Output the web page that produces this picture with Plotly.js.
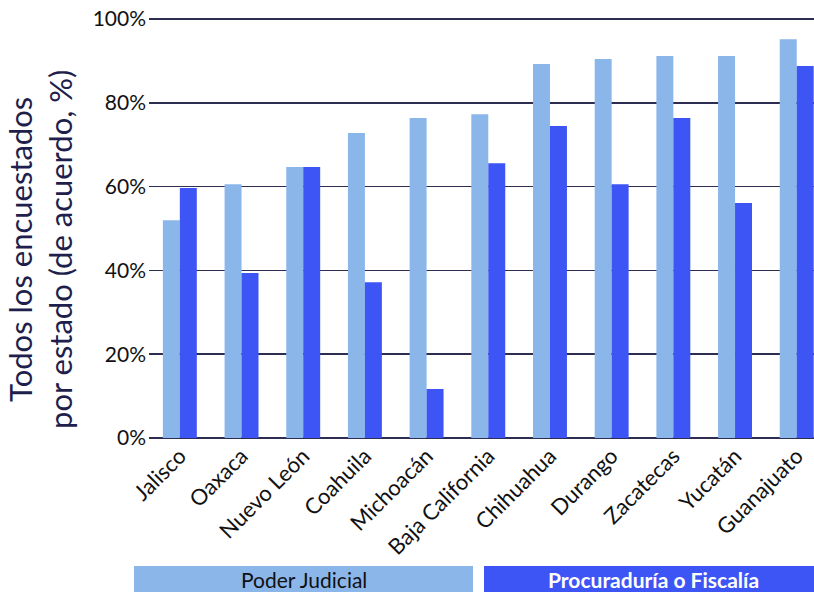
<!DOCTYPE html>
<html><head><meta charset="utf-8">
<script src="https://cdn.plot.ly/plotly-3.0.1.min.js"></script>
<style>html,body{margin:0;padding:0;background:#fff}#chart{width:814px;height:592px}</style>
</head><body><div id="chart"></div>
<script>
const states = ["Jalisco","Oaxaca","Nuevo León","Coahuila","Michoacán","Baja California","Chihuahua","Durango","Zacatecas","Yucatán","Guanajuato"];
const poderJudicial = [52, 60.6, 64.7, 72.8, 76.4, 77.3, 89.3, 90.5, 91.2, 91.2, 95.2];
const procuraduria = [59.7, 39.4, 64.7, 37.2, 11.7, 65.6, 74.5, 60.6, 76.4, 56.1, 88.8];
const seriesNames = ["Poder Judicial", "Procuraduría o Fiscalía"];
const yTicks = [0, 20, 40, 60, 80, 100];
const yTickLabels = ["0%", "20%", "40%", "60%", "80%", "100%"];
const yTitle = "Todos los encuestados<br>por estado (de acuerdo, %)";

const lightBlue = "#8ab6ea";
const darkBlue = "#3d55f5";
const font = "Lato, 'Noto Sans', sans-serif";

const traces = [
  {type:"bar", x: states, y: poderJudicial, name: seriesNames[0], marker:{color: lightBlue}},
  {type:"bar", x: states, y: procuraduria, name: seriesNames[1], marker:{color: darkBlue}}
];

const W = 665, H = 421, L = 149, T = 17;
const px = v => (v - L) / W;
const py = v => (T + H - v) / H;

const layout = {
  width: 814, height: 592,
  margin: {l:L, r:0, t:T, b:154},
  barmode: "group", bargap: 0.45, bargroupgap: 0,
  showlegend: false,
  paper_bgcolor: "#fff", plot_bgcolor: "#fff",
  font: {family: font, color: "#222"},
  xaxis: {
    range: [-0.5, 10.28], tickangle: -45, showgrid: false, zeroline: false,
    showline: false, ticks: "", tickfont: {size: 22, color: "#111"}, automargin: false
  },
  yaxis: {
    range: [0, 100.5], tickmode: "array", tickvals: yTicks, ticktext: yTickLabels,
    showgrid: true, gridcolor: "#2d2d52", gridwidth: 1.6,
    zeroline: true, zerolinecolor: "#2d2d52", zerolinewidth: 1.6,
    tickfont: {size: 21, color: "#111"}, ticks: "", ticklabelstandoff: 2,
    automargin: false
  },
  shapes: [
    {type:"rect", xref:"paper", yref:"paper", x0:px(134), x1:px(473), y0:py(592), y1:py(566), fillcolor: lightBlue, line:{width:0}},
    {type:"rect", xref:"paper", yref:"paper", x0:px(484), x1:px(814), y0:py(592), y1:py(566), fillcolor: darkBlue, line:{width:0}}
  ],
  annotations: [
    {xref:"paper", yref:"paper", x:px(304), y:py(579), xanchor:"center", yanchor:"middle", text: seriesNames[0], showarrow:false, font:{size:21, color:"#111", family: font}},
    {xref:"paper", yref:"paper", x:px(653), y:py(579), xanchor:"center", yanchor:"middle", text: "<b>" + seriesNames[1] + "</b>", showarrow:false, font:{size:21, color:"#fff", family: font}},
    {xref:"paper", yref:"paper", x:px(40), y:py(250), xanchor:"center", yanchor:"middle", textangle:-90, text: yTitle, showarrow:false, font:{size:31, color:"#1e1f4d", family: font}}
  ]
};

Plotly.newPlot("chart", traces, layout, {displayModeBar:false, staticPlot:true});
</script>
</body></html>
